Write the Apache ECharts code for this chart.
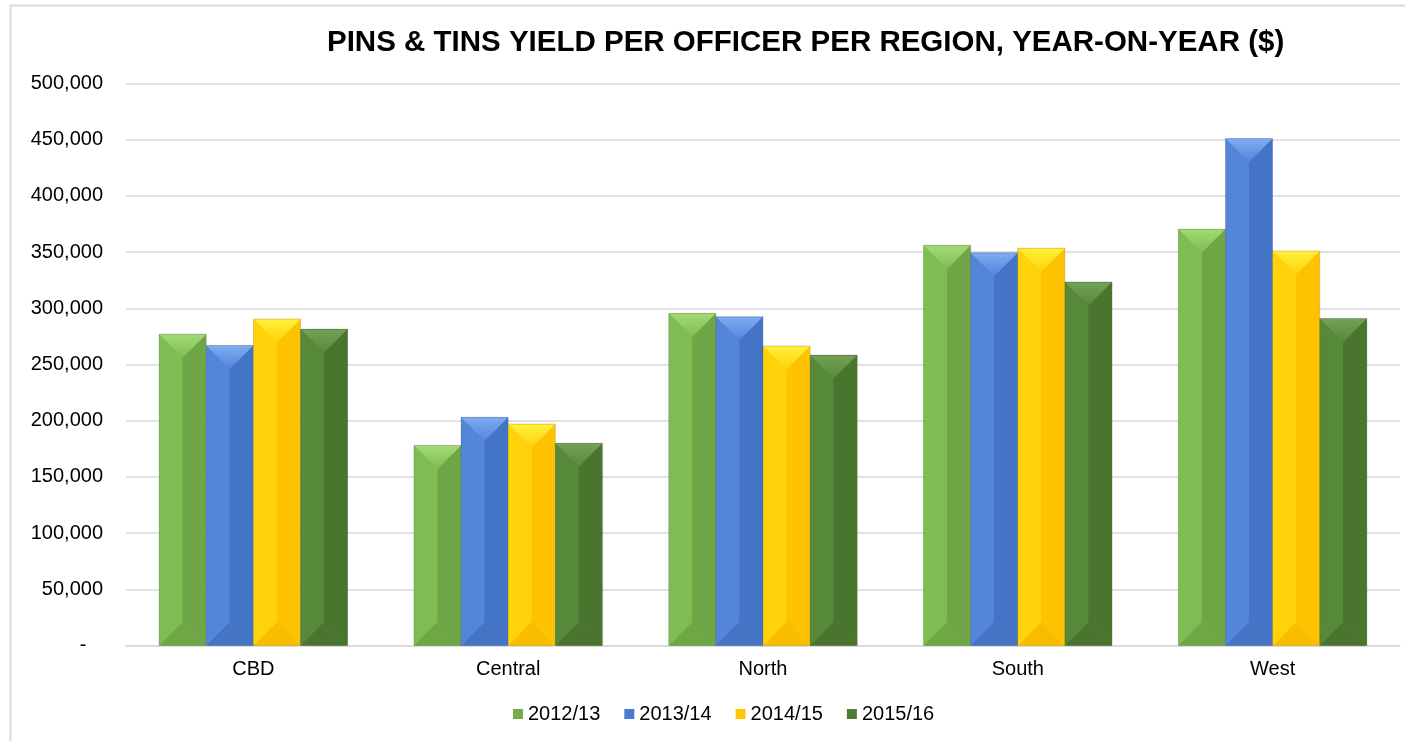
<!DOCTYPE html>
<html>
<head>
<meta charset="utf-8">
<style>
  html, body { margin: 0; padding: 0; background: #fff; }
  #chart { width: 1405px; height: 741px; }
</style>
<script src="https://cdn.jsdelivr.net/npm/echarts@6/dist/echarts.min.js"></script>
</head>
<body>
<div id="chart"></div>
<script>
// regions on the x axis
var regions = ['CBD', 'Central', 'North', 'South', 'West']
// one array per financial year
var years = ['2012/13', '2013/14', '2014/15', '2015/16']
var yield1213 = [277000, 178000, 295500, 356000, 370500]
var yield1314 = [267000, 203000, 292500, 349500, 451000]
var yield1415 = [290500, 197000, 266500, 353500, 351000]
var yield1516 = [281500, 180000, 258500, 323500, 291000]
var yTicks = [0, 50000, 100000, 150000, 200000, 250000, 300000, 350000, 400000, 450000, 500000]

// bevel colours: [main, left face, right face, top facet, bottom facet]
var palettes = [
  ['#74b04a', '#7dbd52', '#6ea646', '#a3da74', '#6fa747'],
  ['#4a7ad0', '#5385da', '#4474c6', '#80aaf2', '#4574c4'],
  ['#ffc800', '#ffd20a', '#fec200', '#fff03a', '#f9bd00'],
  ['#4f7d33', '#568a39', '#4a752f', '#74a058', '#4a752f']
]

var CAT_GAP = 0.26
var FONT = 'Arial, "Liberation Sans", sans-serif'

function bevelRenderer(idx) {
  var pal = palettes[idx]
  return function (params, api) {
    var cat = api.value(0)
    var val = api.value(1)
    var base = api.coord([cat, 0])
    var top = api.coord([cat, val])
    var band = api.size([1, 0])[0]
    var groupW = band * (1 - CAT_GAP)
    var w = groupW / years.length
    var x0 = base[0] - groupW / 2 + idx * w
    var x1 = x0 + w
    var xm = x0 + w / 2
    var yt = top[1]
    var yb = base[1]
    var d = Math.min(w / 2, (yb - yt) / 2)
    return {
      type: 'group',
      children: [
        { type: 'rect', shape: { x: x0, y: yt, width: w, height: yb - yt },
          style: { fill: pal[0], stroke: 'rgba(0,0,0,0.15)', lineWidth: 1 } },
        { type: 'polygon', shape: { points: [[x0 + 0.5, yt], [xm, yt + d], [xm, yb - d], [x0 + 0.5, yb]] },
          style: { fill: pal[1] } },
        { type: 'polygon', shape: { points: [[x1 - 0.5, yt], [xm, yt + d], [xm, yb - d], [x1 - 0.5, yb]] },
          style: { fill: pal[2] } },
        { type: 'polygon', shape: { points: [[x0 + 0.5, yt + 0.5], [x1 - 0.5, yt + 0.5], [xm, yt + d]] },
          style: { fill: new echarts.graphic.LinearGradient(0, 0, 0, 1, [
            { offset: 0, color: pal[3] }, { offset: 1, color: pal[1] }]) } },
        { type: 'polygon', shape: { points: [[x0 + 0.5, yb], [xm, yb - d], [x1 - 0.5, yb]] },
          style: { fill: pal[4] } }
      ]
    }
  }
}

function makeSeries(name, values, idx) {
  return {
    name: name,
    type: 'custom',
    renderItem: bevelRenderer(idx),
    encode: { x: 0, y: 1 },
    itemStyle: { color: palettes[idx][0] },
    data: values.map(function (v, i) { return [i, v] })
  }
}

var chart = echarts.init(document.getElementById('chart'))
chart.setOption({
  animation: false,
  backgroundColor: '#fff',
  graphic: [{
    type: 'rect', left: 8, top: 3, shape: { width: 1410, height: 750 },
    style: { fill: 'none', stroke: '#d9d9d9', lineWidth: 2 }, silent: true
  }],
  title: {
    text: 'PINS & TINS YIELD PER OFFICER PER REGION, YEAR-ON-YEAR ($)',
    left: 322, top: 23,
    textStyle: { fontFamily: FONT, fontSize: 29.5, fontWeight: 'bold', color: '#000' }
  },
  legend: {
    left: 508, top: 699,
    icon: 'rect', itemWidth: 10, itemHeight: 10, itemGap: 24,
    textStyle: { fontFamily: FONT, fontSize: 20, color: '#000' },
    data: years
  },
  grid: { left: 126, right: 5, top: 83.5, bottom: 95.5, containLabel: false },
  xAxis: {
    type: 'category',
    data: regions,
    axisLine: { lineStyle: { color: '#d9d9d9', width: 1.5 } },
    axisTick: { show: false },
    axisLabel: { fontFamily: FONT, fontSize: 20, color: '#000', margin: 14 }
  },
  yAxis: {
    type: 'value',
    min: yTicks[0], max: yTicks[yTicks.length - 1], interval: yTicks[1] - yTicks[0],
    axisLine: { show: false },
    axisTick: { show: false },
    splitLine: { lineStyle: { color: '#d9d9d9', width: 1.5 } },
    axisLabel: {
      fontFamily: FONT, fontSize: 20, color: '#000', margin: 23,
      formatter: function (v) {
        return v === 0 ? '-\u00a0\u00a0\u00a0' : v.toLocaleString('en-US')
      }
    }
  },
  series: [
    makeSeries(years[0], yield1213, 0),
    makeSeries(years[1], yield1314, 1),
    makeSeries(years[2], yield1415, 2),
    makeSeries(years[3], yield1516, 3)
  ]
})
</script>
</body>
</html>
